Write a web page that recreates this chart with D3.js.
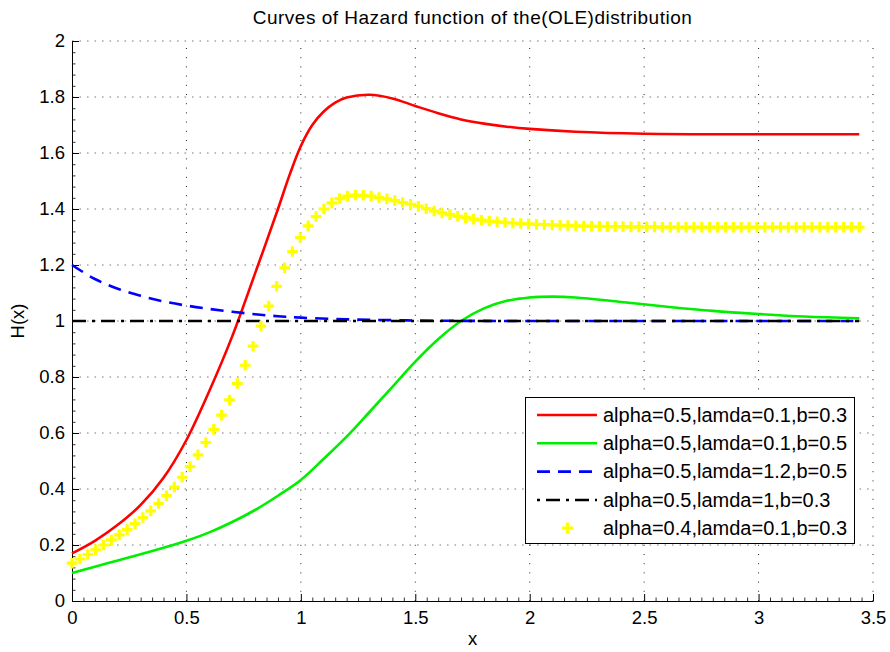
<!DOCTYPE html>
<html>
<head>
<meta charset="utf-8">
<script src="https://cdn.jsdelivr.net/npm/d3@7"></script>
<style>
  html, body { margin: 0; padding: 0; background: #fff; }
  svg { display: block; font-family: "Liberation Sans", Arial, Helvetica, sans-serif; }
</style>
</head>
<body>
<svg id="chart" width="890" height="652"></svg>
<script>
// ---------- data ----------
const titleText = "Curves of Hazard function of the(OLE)distribution";
const xLabel = "x";
const yLabel = "H(x)";
const xTicks = [0, 0.5, 1, 1.5, 2, 2.5, 3, 3.5];
const yTicks = [0, 0.2, 0.4, 0.6, 0.8, 1, 1.2, 1.4, 1.6, 1.8, 2];
const xTickLabels = ["0", "0.5", "1", "1.5", "2", "2.5", "3", "3.5"];
const yTickLabels = ["0", "0.2", "0.4", "0.6", "0.8", "1", "1.2", "1.4", "1.6", "1.8", "2"];

const seriesNames = [
  "alpha=0.5,lamda=0.1,b=0.3",
  "alpha=0.5,lamda=0.1,b=0.5",
  "alpha=0.5,lamda=1.2,b=0.5",
  "alpha=0.5,lamda=1,b=0.3",
  "alpha=0.4,lamda=0.1,b=0.3"
];

const redX = [0, 0.1, 0.2, 0.3, 0.4, 0.5, 0.6, 0.7, 0.8, 0.9, 0.95, 1.0, 1.05, 1.1, 1.15, 1.2, 1.3, 1.4, 1.5, 1.6, 1.7, 1.8, 1.9, 2.0, 2.2, 2.5, 3.0, 3.44];
const redY = [0.17, 0.215, 0.272, 0.343, 0.44, 0.575, 0.75, 0.945, 1.17, 1.40, 1.52, 1.625, 1.70, 1.748, 1.78, 1.798, 1.808, 1.795, 1.768, 1.742, 1.72, 1.705, 1.694, 1.686, 1.676, 1.669, 1.667, 1.667];

const greenX = [0, 0.1, 0.2, 0.3, 0.4, 0.5, 0.6, 0.7, 0.8, 0.9, 1.0, 1.1, 1.2, 1.3, 1.4, 1.5, 1.6, 1.7, 1.8, 1.9, 2.0, 2.1, 2.2, 2.4, 2.6, 2.8, 3.0, 3.2, 3.44];
const greenY = [0.10, 0.122, 0.145, 0.167, 0.19, 0.215, 0.245, 0.282, 0.325, 0.376, 0.432, 0.508, 0.587, 0.675, 0.765, 0.855, 0.935, 1.0, 1.045, 1.072, 1.084, 1.087, 1.084, 1.068, 1.051, 1.036, 1.025, 1.016, 1.01];

const blueX = [0, 0.1, 0.2, 0.3, 0.4, 0.5, 0.6, 0.7, 0.8, 0.9, 1.0, 1.2, 1.4, 1.6, 2.0, 2.5, 3.0, 3.44];
const blueY = [1.2, 1.15, 1.115, 1.09, 1.07, 1.055, 1.043, 1.033, 1.024, 1.017, 1.012, 1.006, 1.003, 1.001, 1.0, 1.0, 1.0, 1.0];

const blackX = [0, 3.44];
const blackY = [1.0, 1.0];

const yellowStep = 0.0344;
const yellowY = [
  0.135, 0.150, 0.166, 0.183, 0.200, 0.218, 0.236, 0.255, 0.276, 0.298,
  0.322, 0.348, 0.376, 0.407, 0.442, 0.480, 0.522, 0.566, 0.613, 0.664,
  0.718, 0.777, 0.842, 0.910, 0.982, 1.053, 1.124, 1.190, 1.248, 1.298,
  1.340, 1.373, 1.400, 1.422, 1.437, 1.446, 1.450, 1.449, 1.446, 1.441,
  1.436, 1.430, 1.423, 1.417, 1.410, 1.401, 1.393, 1.386, 1.380, 1.374,
  1.369, 1.364, 1.360, 1.357, 1.354, 1.352, 1.350, 1.348, 1.347, 1.345,
  1.344, 1.343, 1.342, 1.341, 1.340, 1.339, 1.338, 1.338, 1.337, 1.337,
  1.337, 1.336, 1.336, 1.336, 1.336, 1.335, 1.335, 1.335, 1.335, 1.335,
  1.335, 1.335, 1.335, 1.335, 1.335, 1.335, 1.335, 1.335, 1.335, 1.335,
  1.335, 1.335, 1.335, 1.335, 1.335, 1.335, 1.335, 1.335, 1.335, 1.335,
  1.335
];

// ---------- layout ----------
const plotLeft = 72, plotRight = 873, plotTop = 41, plotBottom = 601;
const svg = d3.select("#chart");

const x = d3.scaleLinear().domain([0, 3.5]).range([plotLeft, plotRight]);
const y = d3.scaleLinear().domain([0, 2]).range([plotBottom, plotTop]);

const FONT = 18.5;

// grid
const grid = svg.append("g");
grid.selectAll("line.hg").data(yTicks.filter(v => v > 0)).enter().append("line")
  .attr("x1", plotLeft).attr("x2", plotRight)
  .attr("y1", d => y(d)).attr("y2", d => y(d))
  .attr("stroke", "#a8a8a8").attr("stroke-width", 1.6)
  .attr("stroke-dasharray", "1.6,5.9");
grid.selectAll("line.vg").data(xTicks.filter(v => v > 0)).enter().append("line")
  .attr("x1", d => x(d)).attr("x2", d => x(d))
  .attr("y1", plotBottom).attr("y2", plotTop)
  .attr("stroke", "#222").attr("stroke-width", 1)
  .attr("stroke-dasharray", "1,8.2");

// minor ticks
const xMinor = d3.range(0, 71).map(i => i * 0.05).filter(v => !xTicks.some(t => Math.abs(t - v) < 1e-6));
const yMinor = d3.range(0, 51).map(i => i * 0.04).filter(v => !yTicks.some(t => Math.abs(t - v) < 1e-6));

svg.append("g").attr("transform", `translate(0,${plotBottom})`)
  .call(d3.axisBottom(x).tickValues(xMinor).tickSizeInner(-3.5).tickSizeOuter(0).tickFormat(""))
  .call(g => g.select(".domain").remove())
  .selectAll("line").attr("stroke", "#333");
svg.append("g").attr("transform", `translate(${plotLeft},0)`)
  .call(d3.axisLeft(y).tickValues(yMinor).tickSizeInner(-3.5).tickSizeOuter(0).tickFormat(""))
  .call(g => g.select(".domain").remove())
  .selectAll("line").attr("stroke", "#333");

// major axes
const xAxis = svg.append("g").attr("transform", `translate(0,${plotBottom})`)
  .call(d3.axisBottom(x).tickValues(xTicks).tickSizeInner(-7).tickSizeOuter(0).tickPadding(10)
    .tickFormat((d, i) => xTickLabels[i]));
const yAxis = svg.append("g").attr("transform", `translate(${plotLeft},0)`)
  .call(d3.axisLeft(y).tickValues(yTicks).tickSizeInner(-7).tickSizeOuter(0).tickPadding(7)
    .tickFormat((d, i) => yTickLabels[i]));
[xAxis, yAxis].forEach(a => {
  a.selectAll("text").attr("font-size", FONT).attr("fill", "#000")
    .attr("font-family", "'Liberation Sans', Arial, sans-serif");
  a.select(".domain").attr("stroke", "#000").attr("stroke-width", 1);
  a.selectAll("line").attr("stroke", "#000");
});

// curves
const line = d3.line().x(d => x(d[0])).y(d => y(d[1])).curve(d3.curveCatmullRom.alpha(0.5));
const zip = (xs, ys) => xs.map((v, i) => [v, ys[i]]);

const curves = [
  { pts: zip(redX, redY), color: "#ff0000", dash: null },
  { pts: zip(greenX, greenY), color: "#00ee00", dash: null },
  { pts: zip(blueX, blueY), color: "#0000ff", dash: "13,8" },
  { pts: zip(blackX, blackY), color: "#000000", dash: "14,6,3,6" }
];
const plotG = svg.append("g");
curves.forEach(c => {
  plotG.append("path").attr("d", line(c.pts))
    .attr("fill", "none").attr("stroke", c.color).attr("stroke-width", 2.6)
    .attr("stroke-dasharray", c.dash);
});

// yellow plus markers
const yellowPts = yellowY.map((v, i) => [i * yellowStep, v]);
const plusPath = (cx, cy, r) => `M${cx - r},${cy}H${cx + r}M${cx},${cy - r}V${cy + r}`;
plotG.selectAll("path.plus").data(yellowPts).enter().append("path")
  .attr("d", d => plusPath(x(d[0]), y(d[1]), 5.3))
  .attr("stroke", "#ffff00").attr("stroke-width", 3.2).attr("fill", "none");

// title and labels
svg.append("text").attr("x", (plotLeft + plotRight) / 2).attr("y", 24)
  .attr("text-anchor", "middle").attr("font-size", 19).attr("letter-spacing", 0.5).text(titleText);
svg.append("text").attr("x", (plotLeft + plotRight) / 2).attr("y", 645)
  .attr("text-anchor", "middle").attr("font-size", FONT).text(xLabel);
svg.append("text").attr("transform", `translate(24,${(plotTop + plotBottom) / 2}) rotate(-90)`)
  .attr("text-anchor", "middle").attr("font-size", FONT).text(yLabel);

// legend
const lg = svg.append("g");
lg.append("rect").attr("x", 525.5).attr("y", 397.5).attr("width", 329).attr("height", 146)
  .attr("fill", "#fff").attr("stroke", "#000").attr("stroke-width", 1);
const legendRows = [415, 443.3, 471.6, 500, 528];
const legendStyles = [
  { color: "#ff0000", dash: null, marker: false },
  { color: "#00ee00", dash: null, marker: false },
  { color: "#0000ff", dash: "13,8", marker: false },
  { color: "#000000", dash: "3,6,14,6", marker: false },
  { color: "#ffff00", dash: null, marker: true }
];
seriesNames.forEach((name, i) => {
  const cy = legendRows[i];
  const s = legendStyles[i];
  if (s.marker) {
    lg.append("path").attr("d", plusPath(567.5, cy, 5.5))
      .attr("stroke", s.color).attr("stroke-width", 3).attr("fill", "none");
  } else {
    lg.append("line").attr("x1", 537).attr("x2", 597).attr("y1", cy).attr("y2", cy)
      .attr("stroke", s.color).attr("stroke-width", 2.6).attr("stroke-dasharray", s.dash);
  }
  lg.append("text").attr("x", 603).attr("y", cy + 6.5).attr("font-size", 20).text(name);
});
</script>
</body>
</html>
